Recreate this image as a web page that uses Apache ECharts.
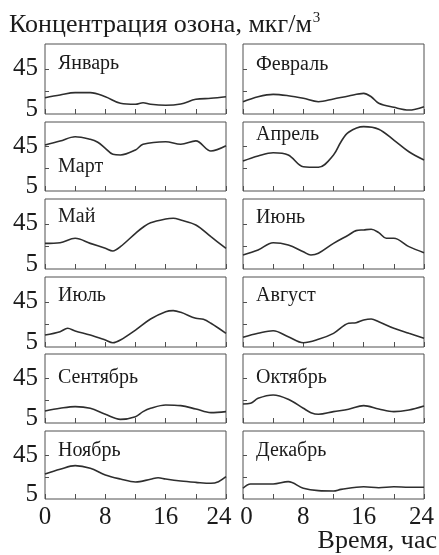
<!DOCTYPE html>
<html>
<head>
<meta charset="utf-8">
<script src="https://cdn.jsdelivr.net/npm/echarts@6/dist/echarts.min.js"></script>
<style>
  html, body { margin: 0; padding: 0; background: #fff; }
  #chart { width: 439px; height: 555px; }
</style>
</head>
<body>
<div id="chart"></div>
<script>
// Mean diurnal ozone concentration by month, [hour, µg/m³]
const january   = [[0,19.4],[2,21.8],[4,23.9],[6,23.9],[8,20.3],[10,14.5],[12,13.6],[13,15],[14,13.6],[16,12.7],[18,13.9],[20,18],[22,18.9],[24,20.3]];
const february  = [[0,15.9],[2,20.3],[4,22.4],[6,21.2],[8,18.9],[10,15.9],[12,18.3],[14,21],[16,23.3],[17,20.3],[18,14.5],[20,10.9],[22,8.5],[24,11.5]];
const march     = [[0,46.4],[2,49.9],[4,53.8],[6,51.5],[7,48.8],[8,43.4],[9,38],[10,37.4],[12,41.9],[13,47],[16,49.3],[18,47],[20,50],[22,41],[24,45.7]];
const april     = [[0,32],[2,36.5],[4,39.4],[6,37.4],[8,26.8],[10,26.3],[12,37.4],[13,49.3],[14,57.8],[16,62.8],[18,60.5],[20,50.8],[22,40.3],[24,32.9]];
const may       = [[0,27.7],[2,28.3],[4,32.2],[6,27.7],[8,23.3],[9,21],[10,24.8],[12,36.6],[13,42],[14,46],[16,49.3],[17,49.9],[18,48.4],[20,44],[22,33.6],[24,23.3]];
const june      = [[0,17.4],[2,21.8],[4,28.3],[6,26.3],[8,20.3],[9,17.4],[10,18.9],[12,27.7],[14,35.1],[15,39],[16,39.6],[17,40.2],[18,37.2],[19,32.2],[20,32.2],[22,24.8],[24,19.4]];
const july      = [[0,15.6],[2,18.6],[3,21.6],[4,19.2],[6,15.6],[8,11.2],[9,8.8],[10,11.2],[12,20],[14,29.8],[16,36.3],[17,37.2],[18,35.7],[20,30.4],[21,29.5],[22,26],[24,17.1]];
const august    = [[0,13.6],[2,17.1],[4,19.4],[6,14.1],[8,8.8],[10,11.8],[12,17.1],[14,26],[15,26.5],[16,28.9],[17,29.8],[18,27.4],[20,21.6],[22,17.1],[24,12.7]];
const september = [[0,15.8],[2,18.2],[4,19.7],[6,18.2],[8,12.8],[10,8.3],[12,10.7],[13,15.2],[14,18.2],[16,21.2],[18,20.6],[20,17.6],[22,14.3],[24,15.2]];
const october   = [[0,22.1],[1,22.7],[2,27.2],[4,30.2],[6,26.3],[8,18.2],[9,14.3],[10,12.8],[12,15.2],[14,17.3],[16,20.6],[18,17.6],[20,15.2],[22,16.7],[24,20.3]];
const november  = [[0,27.8],[2,32.1],[4,35.4],[6,33],[8,26.9],[10,23.2],[12,20.5],[14,23],[15,24.4],[16,23.2],[18,21.4],[20,20.2],[22,19.3],[23,20.8],[24,25.3]];
const december  = [[0,14.8],[1,18.7],[2,18.7],[4,18.7],[6,20.8],[8,14.8],[10,12.6],[12,12.3],[13,13.8],[16,16.2],[18,15.3],[20,16.2],[22,15.7],[24,15.7]];

const monthNames = ['Январь','Февраль','Март','Апрель','Май','Июнь','Июль','Август','Сентябрь','Октябрь','Ноябрь','Декабрь'];
const monthSeries = [january, february, march, april, may, june, july, august, september, october, november, december];

const hourTicks = [0, 8, 16, 24];
const concTickLabels = [5, 45];
const concTicks = [25, 45];

const titleText = 'Концентрация озона, мкг/м';
const xAxisTitle = 'Время, час';

// panel geometry
const colLeft = [45, 243];
const panelWidth = 181;
const rowTop = [44, 122, 199, 277, 354, 431];
const rowHeight = [70, 69, 70, 70, 69, 68];
// vertical offset of each month caption centre inside its panel
const captionOffset = [21, 22, 46, 14, 19, 20, 20, 20, 25, 25, 21, 21];

const serif = '"Liberation Serif", "Times New Roman", serif';
const ink = '#1b1b1b';
const frame = '#505050';

const grids = [], xAxes = [], yAxes = [], series = [], graphics = [];

// hour labels at the shared edge of the two columns are nudged apart
function hourLabel(col) {
  return v => {
    if (!hourTicks.includes(v)) return '';
    if (col === 0 && v === 24) return '{endL|24}';
    if (col === 1 && v === 0) return '{startR|0}';
    if (col === 1 && v === 24) return '{endR|24}';
    return String(v);
  };
}
const digit = { fontFamily: serif, fontSize: 25, color: ink };

monthSeries.forEach((data, i) => {
  const row = Math.floor(i / 2), col = i % 2;
  const isBottom = row === 5, isLeft = col === 0;
  grids.push({
    left: colLeft[col], top: rowTop[row], width: panelWidth, height: rowHeight[row],
    show: true, borderColor: frame, borderWidth: 1, backgroundColor: 'transparent'
  });
  xAxes.push({
    type: 'value', gridIndex: i, min: 0, max: 24, interval: 4,
    axisLine: { show: false },
    splitLine: { show: false },
    axisTick: { show: true, inside: true, length: 5, lineStyle: { color: frame, width: 1 } },
    axisLabel: {
      show: isBottom, margin: 6, fontFamily: serif, fontSize: 25, color: ink,
      formatter: hourLabel(col),
      rich: {
        endL: Object.assign({ padding: [0, 14, 0, 0] }, digit),
        startR: Object.assign({ padding: [0, 0, 0, 7] }, digit),
        endR: Object.assign({ padding: [0, 5, 0, 0] }, digit)
      }
    }
  });
  yAxes.push({
    type: 'value', gridIndex: i, min: 5, max: 67,
    axisLine: { show: false },
    splitLine: { show: false },
    axisTick: { show: true, inside: true, length: 4, customValues: concTicks, lineStyle: { color: frame, width: 1 } },
    axisLabel: {
      show: isLeft, margin: 7, fontFamily: serif, fontSize: 25, color: ink,
      customValues: concTickLabels,
      formatter: v => v === 5 ? '{lo|5}' : String(v),
      rich: { lo: Object.assign({ padding: [0, 0, 9, 0] }, digit) }
    }
  });
  series.push({
    type: 'line', xAxisIndex: i, yAxisIndex: i, data: data,
    showSymbol: false, smooth: 0.35, silent: true,
    lineStyle: { color: '#2e2e2e', width: 1.6 }
  });
  graphics.push({
    type: 'text', left: colLeft[col] + 13, top: rowTop[row] + captionOffset[i] - 11,
    style: { text: monthNames[i], font: '20px ' + serif, fill: ink }
  });
});

graphics.push({
  type: 'text', left: 9, top: 11,
  style: {
    text: titleText + '{sup|3}', font: '26px ' + serif, fill: ink,
    rich: { sup: { fontSize: 15, fontFamily: serif, fill: ink, verticalAlign: 'top', padding: [0, 0, 13, 1] } }
  }
});
graphics.push({
  type: 'text', right: 2, top: 528,
  style: { text: xAxisTitle, font: '26px ' + serif, fill: ink }
});

const chart = echarts.init(document.getElementById('chart'), null, { renderer: 'canvas' });
chart.setOption({
  animation: false,
  backgroundColor: '#fff',
  grid: grids,
  xAxis: xAxes,
  yAxis: yAxes,
  series: series,
  graphic: graphics
});
</script>
</body>
</html>
